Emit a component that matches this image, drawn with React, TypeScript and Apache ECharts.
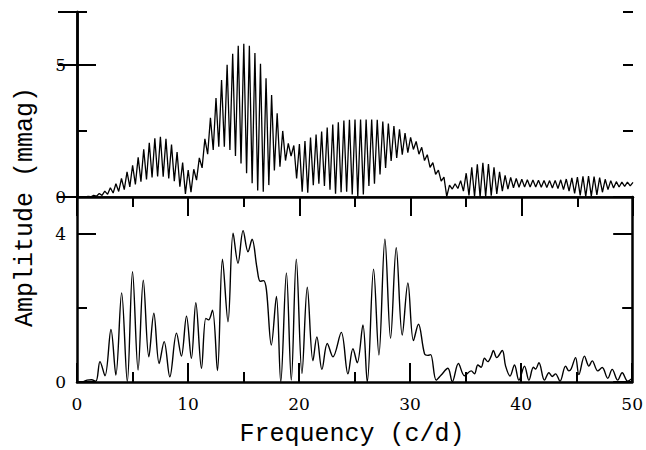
import React, { useEffect, useRef } from "react";
import * as echarts from "echarts";

// Top panel: amplitude at peaks (f = 0, 0.5, ..., 50) and troughs (f = 0.25, 0.75, ..., 49.75)
const topPeakStart = 0;
const topTroughStart = 0.25;
const topStep = 0.5;
const topPeakAmp = [
  0, 0, 0.02, 0.06, 0.13, 0.22, 0.35, 0.5, 0.7, 0.95,
  1.2, 1.5, 1.8, 2.05, 2.22, 2.28, 2.2, 1.98, 1.7, 1.3,
  1.02, 1.05, 1.48, 2.2, 3.0, 3.74, 4.43, 5.0, 5.42, 5.72,
  5.8, 5.72, 5.45, 5.04, 4.49, 3.86, 3.17, 2.5, 2.03, 1.95,
  2.0, 2.12, 2.25, 2.36, 2.48, 2.63, 2.74, 2.83, 2.89, 2.92,
  2.93, 2.93, 2.93, 2.93, 2.92, 2.86, 2.78, 2.68, 2.56, 2.42,
  2.26, 2.1, 1.88, 1.6, 1.3, 1.02, 0.75, 0.45, 0.5, 0.62,
  0.9, 1.12, 1.24, 1.29, 1.25, 1.12, 0.95, 0.82, 0.74, 0.7,
  0.67, 0.65, 0.64, 0.63, 0.62, 0.62, 0.63, 0.65, 0.68, 0.72,
  0.75, 0.78, 0.79, 0.77, 0.73, 0.67, 0.62, 0.58, 0.56, 0.56,
  0.55,
];
const topTroughAmp = [
  0, 0, 0.01, 0.03, 0.06, 0.1, 0.15, 0.21, 0.28, 0.38,
  0.48, 0.58, 0.66, 0.74, 0.78, 0.77, 0.7, 0.6, 0.39, 0.12,
  0.18, 0.64, 1.1, 1.62, 1.78, 1.9, 1.9, 1.78, 1.55, 1.27,
  0.9, 0.52, 0.25, 0.2, 0.45, 1.0, 1.15, 1.38, 1.55, 0.7,
  0.2, 0.16, 0.45, 0.5, 0.42, 0.28, 0.12, 0.18, 0.2, 0.1,
  0.02, 0.1, 0.42, 0.5, 0.85, 1.1, 1.36, 1.48, 1.6, 1.68,
  1.8, 1.62, 1.38, 1.12, 0.86, 0.6, 0.02, 0.3, 0.32, 0.22,
  0.06, 0.02, 0.0, 0.02, 0.05, 0.12, 0.22, 0.3, 0.35, 0.37,
  0.38, 0.38, 0.38, 0.37, 0.36, 0.34, 0.32, 0.28, 0.22, 0.14,
  0.06, 0.02, 0.03, 0.08, 0.18, 0.28, 0.34, 0.38, 0.4, 0.42,
];

// Bottom panel: frequency / amplitude of turning points
const botFreq = [
  0.5, 0.9, 1.3, 1.7, 2.07, 2.52, 3.06, 3.5, 4.02, 4.53,
  5.0, 5.5, 5.97, 6.47, 6.92, 7.4, 7.85, 8.36, 8.96, 9.4,
  9.86, 10.3, 10.7, 11.21, 11.6, 11.85, 12.2, 12.65, 13.1, 13.6,
  14.06, 14.5, 14.96, 15.4, 15.77, 16.2, 16.5, 16.8, 17.06, 17.5,
  17.96, 18.35, 18.86, 19.3, 19.75, 20.26, 20.74, 21.25, 21.6, 22.06,
  22.54, 23.05, 23.8, 24.4, 24.85, 25.24, 25.75, 26.14, 26.71, 27.19,
  27.73, 28.24, 28.75, 29.29, 29.8, 30.3, 30.75, 31.3, 31.6, 31.85,
  32.35, 32.8, 33.4, 33.8, 34.35, 34.9, 35.5, 35.8, 36.1, 36.4,
  36.7, 37.0, 37.3, 37.5, 37.8, 38.3, 38.6, 39.0, 39.4, 39.8,
  40.3, 40.7, 41.1, 41.3, 41.6, 42.1, 42.5, 42.8, 43.1, 43.5,
  44.0, 44.3, 44.5, 44.9, 45.2, 45.7, 46.1, 46.4, 46.9, 47.3,
  47.8, 48.2, 48.7, 49.1, 49.6, 50.0,
];
const botAmp = [
  0, 0.05, 0.06, 0.02, 0.55, 0.17, 1.42, 0.19, 2.41, 0.01,
  2.98, 0.32, 2.75, 0.68, 1.86, 0.5, 1.09, 0.14, 1.32, 0.7,
  1.78, 0.64, 2.14, 0.37, 1.72, 1.68, 1.94, 0.31, 3.32, 1.63,
  4.02, 3.21, 4.09, 3.52, 3.86, 3.1, 2.72, 2.74, 2.49, 1.0,
  2.31, 0, 2.95, 0.05, 3.32, 0.23, 2.56, 0.57, 1.22, 0.34,
  1.04, 0.68, 1.34, 0.22, 0.9, 0.52, 1.54, 0, 3.05, 0.73,
  3.86, 1.18, 3.63, 1.27, 2.68, 1.12, 1.56, 0.76, 0.72, 0.74,
  0.05, 0.19, 0.37, 0.01, 0.5, 0.17, 0.3, 0.22, 0.46, 0.4,
  0.64, 0.55, 0.7, 0.85, 0.66, 0.85, 0.43, 0.16, 0.46, 0.05,
  0.43, 0.05, 0.4, 0.35, 0.52, 0.05, 0.25, 0.15, 0.22, 0.02,
  0.43, 0.3, 0.35, 0.66, 0.2, 0.7, 0.43, 0.57, 0.3, 0.39,
  0.1, 0.34, 0.05, 0.25, 0.02, 0.1,
];

const xTicksMajor = 10;
const xTicksMinor = 5;
const topYLabels = [0, 5];
const botYLabels = [0, 4];

const xLabel = "Frequency (c/d)";
const yLabel = "Amplitude (mmag)";

export default function App() {
  const ref = useRef<HTMLDivElement>(null);
  useEffect(() => {
    if (!ref.current) return;
    const chart = echarts.init(ref.current, undefined, { renderer: "svg" });

    const topData: number[][] = [];
    for (let i = 0; i < topPeakAmp.length; i++) {
      topData.push([topPeakStart + i * topStep, topPeakAmp[i]]);
      if (i < topTroughAmp.length) topData.push([topTroughStart + i * topStep, topTroughAmp[i]]);
    }
    const botData = botFreq.map((f, i) => [f, botAmp[i]]);

    const black = "#000";
    const labelFont = { fontFamily: "DejaVu Serif", fontSize: 17, color: black };

    const mkX = (grid: number, position: string, interval: number, tickLen: number, opts: any = {}) => ({
      type: "value",
      gridIndex: grid,
      position,
      min: 0,
      max: 50,
      interval,
      axisLine: { show: false, lineStyle: { color: black, width: 2 } },
      axisTick: { show: tickLen > 0, inside: true, length: tickLen, lineStyle: { color: black, width: 2 } },
      axisLabel: { show: false },
      splitLine: { show: false },
      ...opts,
    });
    const mkY = (grid: number, position: string, max: number, interval: number, tickLen: number, opts: any = {}) => ({
      type: "value",
      gridIndex: grid,
      position,
      min: 0,
      max,
      interval,
      axisLine: { show: false, lineStyle: { color: black, width: 2 } },
      axisTick: { show: true, inside: true, length: tickLen, lineStyle: { color: black, width: 2 } },
      axisLabel: { show: false },
      splitLine: { show: false },
      ...opts,
    });

    chart.setOption({
      animation: false,
      backgroundColor: "#fff",
      grid: [
        { left: 77, top: 12, width: 556, height: 185 },
        { left: 77, top: 197, width: 556, height: 185 },
      ],
      xAxis: [
        mkX(0, "top", xTicksMajor, 19, { axisLine: { show: true, lineStyle: { color: black, width: 2.5 } } }),
        mkX(0, "top", xTicksMinor, 10),
        mkX(0, "bottom", xTicksMajor, 0, { axisLine: { show: true, lineStyle: { color: black, width: 1.5 } } }),
        mkX(1, "bottom", xTicksMajor, 19, {
          axisLine: { show: true, lineStyle: { color: black, width: 2.5 } },
          axisLabel: { show: true, margin: 13, showMinLabel: true, showMaxLabel: true, ...labelFont },
        }),
        mkX(1, "bottom", xTicksMinor, 10),
      ],
      yAxis: [
        mkY(0, "left", 7, 5, 19, {
          axisLine: { show: true, lineStyle: { color: black, width: 2.5 } },
          axisLabel: {
            show: true,
            margin: 11,
            showMaxLabel: false,
            formatter: (v: number) => (topYLabels.includes(v) ? String(v) : ""),
            ...labelFont,
          },
        }),
        mkY(0, "left", 7, 2.5, 10),
        mkY(0, "right", 7, 5, 19, { axisLine: { show: true, lineStyle: { color: black, width: 2.5 } } }),
        mkY(0, "right", 7, 2.5, 10),
        mkY(1, "left", 5, 4, 19, {
          axisLine: { show: true, lineStyle: { color: black, width: 2.5 } },
          axisLabel: {
            show: true,
            margin: 11,
            showMaxLabel: false,
            formatter: (v: number) => (botYLabels.includes(v) ? String(v) : ""),
            ...labelFont,
          },
        }),
        mkY(1, "left", 5, 2, 10),
        mkY(1, "right", 5, 4, 19, { axisLine: { show: true, lineStyle: { color: black, width: 2.5 } } }),
        mkY(1, "right", 5, 2, 10),
      ],
      series: [
        {
          type: "line",
          xAxisIndex: 0,
          yAxisIndex: 0,
          data: topData,
          showSymbol: false,
          symbol: "none",
          lineStyle: { color: black, width: 1.3 },
          silent: true,
        },
        {
          type: "line",
          xAxisIndex: 3,
          yAxisIndex: 4,
          data: botData,
          showSymbol: false,
          symbol: "none",
          smooth: 0.35,
          lineStyle: { color: black, width: 1.4 },
          silent: true,
        },
      ],
      graphic: [
        {
          type: "text",
          x: 352,
          y: 434,
          style: {
            text: xLabel,
            fontFamily: "Liberation Mono",
            fontSize: 25,
            fill: black,
            textAlign: "center",
            textVerticalAlign: "middle",
          },
        },
        {
          type: "text",
          x: 25,
          y: 207,
          rotation: Math.PI / 2,
          style: {
            text: yLabel,
            fontFamily: "Liberation Mono",
            fontSize: 25,
            fill: black,
            textAlign: "center",
            textVerticalAlign: "middle",
          },
        },
      ],
    });
    return () => chart.dispose();
  }, []);
  return <div ref={ref} style={{ width: 646, height: 450, position: "absolute", left: 0, top: 0 }} />;
}
